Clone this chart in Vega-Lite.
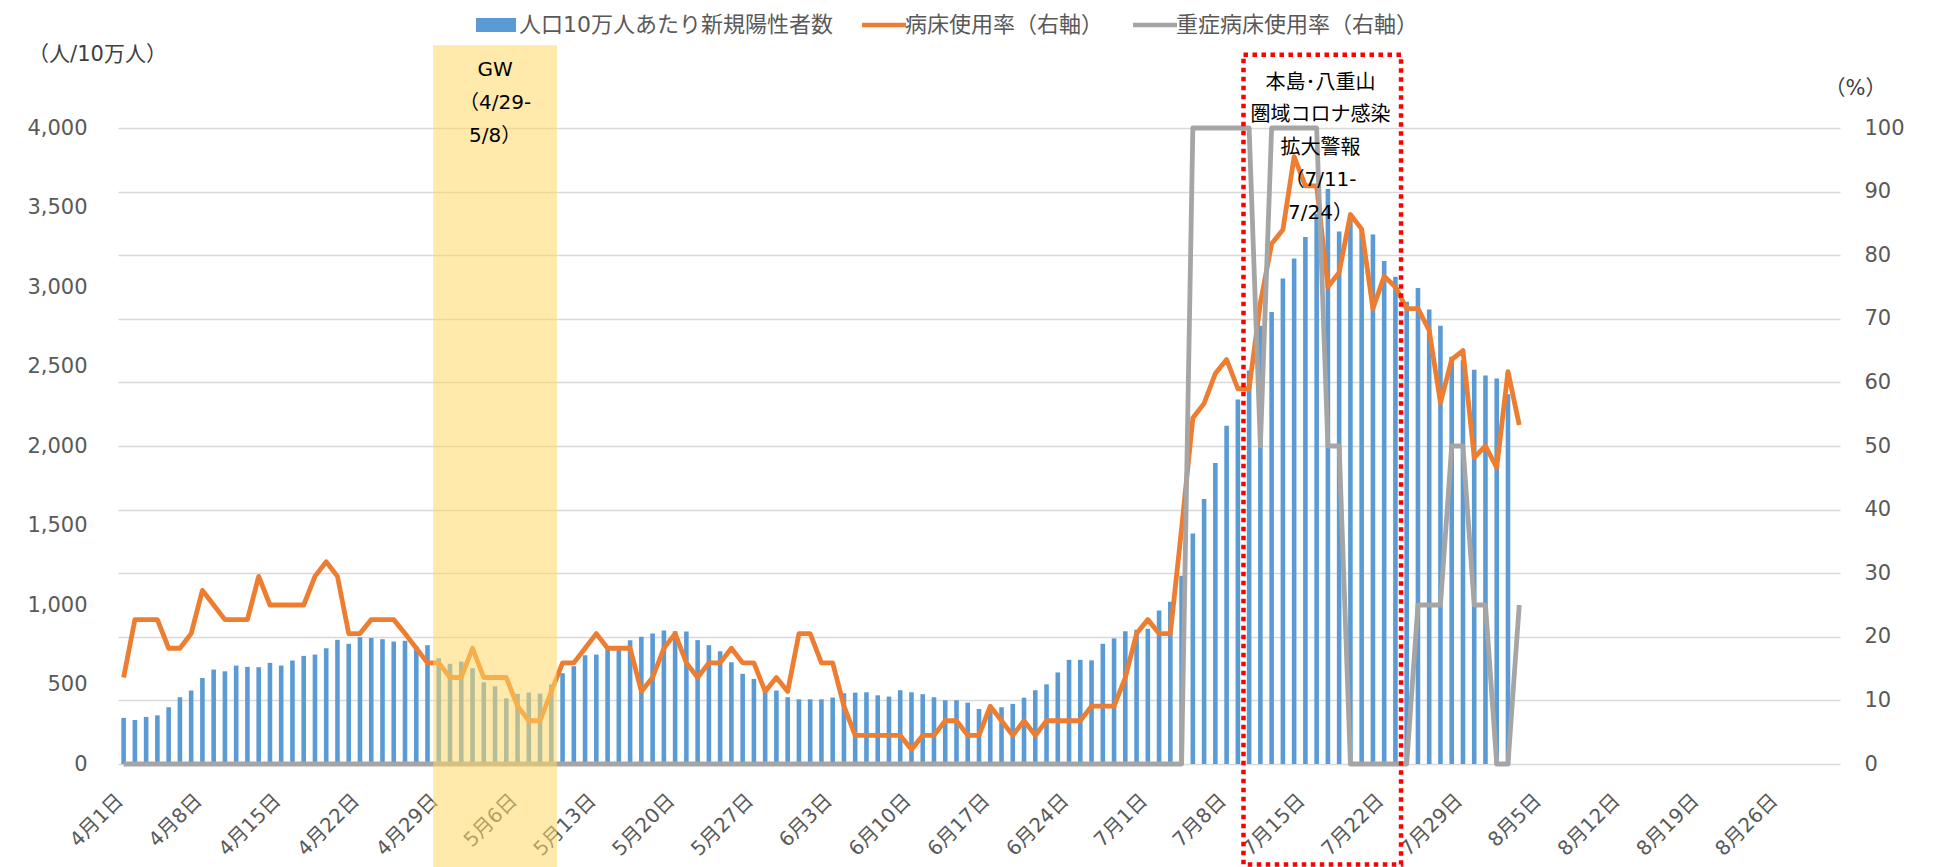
{
  "$schema": "https://vega.github.io/schema/vega-lite/v6.json",
  "width": 1722,
  "height": 636,
  "autosize": {"type": "none"},
  "padding": {"left": 118, "top": 128, "right": 93, "bottom": 103},
  "background": "white",
  "config": {
    "view": {"stroke": null},
    "font": "DejaVu Sans, Noto Sans CJK JP",
    "axis": {"labelFont": "DejaVu Sans, Noto Sans CJK JP", "titleFont": "DejaVu Sans, Noto Sans CJK JP"},
    "legend": {"labelFont": "DejaVu Sans, Noto Sans CJK JP"}
  },
  "data": {"values": [
    {"date": "2022-04-01", "cases": 290, "bed": 13.6, "severe": 0},
    {"date": "2022-04-02", "cases": 277, "bed": 22.7, "severe": 0},
    {"date": "2022-04-03", "cases": 296, "bed": 22.7, "severe": 0},
    {"date": "2022-04-04", "cases": 306, "bed": 22.7, "severe": 0},
    {"date": "2022-04-05", "cases": 357, "bed": 18.2, "severe": 0},
    {"date": "2022-04-06", "cases": 420, "bed": 18.2, "severe": 0},
    {"date": "2022-04-07", "cases": 462, "bed": 20.5, "severe": 0},
    {"date": "2022-04-08", "cases": 541, "bed": 27.3, "severe": 0},
    {"date": "2022-04-09", "cases": 594, "bed": 25.0, "severe": 0},
    {"date": "2022-04-10", "cases": 583, "bed": 22.7, "severe": 0},
    {"date": "2022-04-11", "cases": 619, "bed": 22.7, "severe": 0},
    {"date": "2022-04-12", "cases": 611, "bed": 22.7, "severe": 0},
    {"date": "2022-04-13", "cases": 609, "bed": 29.5, "severe": 0},
    {"date": "2022-04-14", "cases": 636, "bed": 25.0, "severe": 0},
    {"date": "2022-04-15", "cases": 619, "bed": 25.0, "severe": 0},
    {"date": "2022-04-16", "cases": 651, "bed": 25.0, "severe": 0},
    {"date": "2022-04-17", "cases": 680, "bed": 25.0, "severe": 0},
    {"date": "2022-04-18", "cases": 688, "bed": 29.5, "severe": 0},
    {"date": "2022-04-19", "cases": 728, "bed": 31.8, "severe": 0},
    {"date": "2022-04-20", "cases": 781, "bed": 29.5, "severe": 0},
    {"date": "2022-04-21", "cases": 756, "bed": 20.5, "severe": 0},
    {"date": "2022-04-22", "cases": 798, "bed": 20.5, "severe": 0},
    {"date": "2022-04-23", "cases": 793, "bed": 22.7, "severe": 0},
    {"date": "2022-04-24", "cases": 785, "bed": 22.7, "severe": 0},
    {"date": "2022-04-25", "cases": 770, "bed": 22.7, "severe": 0},
    {"date": "2022-04-26", "cases": 775, "bed": 20.5, "severe": 0},
    {"date": "2022-04-27", "cases": 740, "bed": 18.2, "severe": 0},
    {"date": "2022-04-28", "cases": 747, "bed": 15.9, "severe": 0},
    {"date": "2022-04-29", "cases": 665, "bed": 15.9, "severe": 0},
    {"date": "2022-04-30", "cases": 630, "bed": 13.6, "severe": 0},
    {"date": "2022-05-01", "cases": 644, "bed": 13.6, "severe": 0},
    {"date": "2022-05-02", "cases": 602, "bed": 18.2, "severe": 0},
    {"date": "2022-05-03", "cases": 514, "bed": 13.6, "severe": 0},
    {"date": "2022-05-04", "cases": 489, "bed": 13.6, "severe": 0},
    {"date": "2022-05-05", "cases": 413, "bed": 13.6, "severe": 0},
    {"date": "2022-05-06", "cases": 441, "bed": 9.1, "severe": 0},
    {"date": "2022-05-07", "cases": 449, "bed": 6.8, "severe": 0},
    {"date": "2022-05-08", "cases": 443, "bed": 6.8, "severe": 0},
    {"date": "2022-05-09", "cases": 500, "bed": 11.4, "severe": 0},
    {"date": "2022-05-10", "cases": 571, "bed": 15.9, "severe": 0},
    {"date": "2022-05-11", "cases": 615, "bed": 15.9, "severe": 0},
    {"date": "2022-05-12", "cases": 684, "bed": 18.2, "severe": 0},
    {"date": "2022-05-13", "cases": 688, "bed": 20.5, "severe": 0},
    {"date": "2022-05-14", "cases": 720, "bed": 18.2, "severe": 0},
    {"date": "2022-05-15", "cases": 739, "bed": 18.2, "severe": 0},
    {"date": "2022-05-16", "cases": 779, "bed": 18.2, "severe": 0},
    {"date": "2022-05-17", "cases": 800, "bed": 11.4, "severe": 0},
    {"date": "2022-05-18", "cases": 821, "bed": 13.6, "severe": 0},
    {"date": "2022-05-19", "cases": 840, "bed": 18.2, "severe": 0},
    {"date": "2022-05-20", "cases": 835, "bed": 20.5, "severe": 0},
    {"date": "2022-05-21", "cases": 833, "bed": 15.9, "severe": 0},
    {"date": "2022-05-22", "cases": 779, "bed": 13.6, "severe": 0},
    {"date": "2022-05-23", "cases": 747, "bed": 15.9, "severe": 0},
    {"date": "2022-05-24", "cases": 709, "bed": 15.9, "severe": 0},
    {"date": "2022-05-25", "cases": 640, "bed": 18.2, "severe": 0},
    {"date": "2022-05-26", "cases": 567, "bed": 15.9, "severe": 0},
    {"date": "2022-05-27", "cases": 535, "bed": 15.9, "severe": 0},
    {"date": "2022-05-28", "cases": 458, "bed": 11.4, "severe": 0},
    {"date": "2022-05-29", "cases": 462, "bed": 13.6, "severe": 0},
    {"date": "2022-05-30", "cases": 420, "bed": 11.4, "severe": 0},
    {"date": "2022-05-31", "cases": 407, "bed": 20.5, "severe": 0},
    {"date": "2022-06-01", "cases": 407, "bed": 20.5, "severe": 0},
    {"date": "2022-06-02", "cases": 407, "bed": 15.9, "severe": 0},
    {"date": "2022-06-03", "cases": 418, "bed": 15.9, "severe": 0},
    {"date": "2022-06-04", "cases": 445, "bed": 9.1, "severe": 0},
    {"date": "2022-06-05", "cases": 449, "bed": 4.5, "severe": 0},
    {"date": "2022-06-06", "cases": 451, "bed": 4.5, "severe": 0},
    {"date": "2022-06-07", "cases": 432, "bed": 4.5, "severe": 0},
    {"date": "2022-06-08", "cases": 424, "bed": 4.5, "severe": 0},
    {"date": "2022-06-09", "cases": 464, "bed": 4.5, "severe": 0},
    {"date": "2022-06-10", "cases": 451, "bed": 2.3, "severe": 0},
    {"date": "2022-06-11", "cases": 439, "bed": 4.5, "severe": 0},
    {"date": "2022-06-12", "cases": 420, "bed": 4.5, "severe": 0},
    {"date": "2022-06-13", "cases": 401, "bed": 6.8, "severe": 0},
    {"date": "2022-06-14", "cases": 401, "bed": 6.8, "severe": 0},
    {"date": "2022-06-15", "cases": 386, "bed": 4.5, "severe": 0},
    {"date": "2022-06-16", "cases": 346, "bed": 4.5, "severe": 0},
    {"date": "2022-06-17", "cases": 357, "bed": 9.1, "severe": 0},
    {"date": "2022-06-18", "cases": 357, "bed": 6.8, "severe": 0},
    {"date": "2022-06-19", "cases": 378, "bed": 4.5, "severe": 0},
    {"date": "2022-06-20", "cases": 417, "bed": 6.8, "severe": 0},
    {"date": "2022-06-21", "cases": 464, "bed": 4.5, "severe": 0},
    {"date": "2022-06-22", "cases": 501, "bed": 6.8, "severe": 0},
    {"date": "2022-06-23", "cases": 576, "bed": 6.8, "severe": 0},
    {"date": "2022-06-24", "cases": 655, "bed": 6.8, "severe": 0},
    {"date": "2022-06-25", "cases": 655, "bed": 6.8, "severe": 0},
    {"date": "2022-06-26", "cases": 652, "bed": 9.1, "severe": 0},
    {"date": "2022-06-27", "cases": 756, "bed": 9.1, "severe": 0},
    {"date": "2022-06-28", "cases": 790, "bed": 9.1, "severe": 0},
    {"date": "2022-06-29", "cases": 835, "bed": 13.6, "severe": 0},
    {"date": "2022-06-30", "cases": 845, "bed": 20.5, "severe": 0},
    {"date": "2022-07-01", "cases": 850, "bed": 22.7, "severe": 0},
    {"date": "2022-07-02", "cases": 965, "bed": 20.5, "severe": 0},
    {"date": "2022-07-03", "cases": 1020, "bed": 20.5, "severe": 0},
    {"date": "2022-07-04", "cases": 1184, "bed": 37.0, "severe": 0},
    {"date": "2022-07-05", "cases": 1450, "bed": 54.4, "severe": 100},
    {"date": "2022-07-06", "cases": 1667, "bed": 56.7, "severe": 100},
    {"date": "2022-07-07", "cases": 1893, "bed": 61.4, "severe": 100},
    {"date": "2022-07-08", "cases": 2128, "bed": 63.6, "severe": 100},
    {"date": "2022-07-09", "cases": 2292, "bed": 59.0, "severe": 100},
    {"date": "2022-07-10", "cases": 2475, "bed": 59.0, "severe": 100},
    {"date": "2022-07-11", "cases": 2757, "bed": 72.5, "severe": 50},
    {"date": "2022-07-12", "cases": 2843, "bed": 81.8, "severe": 100},
    {"date": "2022-07-13", "cases": 3054, "bed": 84.0, "severe": 100},
    {"date": "2022-07-14", "cases": 3179, "bed": 95.5, "severe": 100},
    {"date": "2022-07-15", "cases": 3315, "bed": 90.9, "severe": 100},
    {"date": "2022-07-16", "cases": 3460, "bed": 90.9, "severe": 100},
    {"date": "2022-07-17", "cases": 3617, "bed": 75.0, "severe": 50},
    {"date": "2022-07-18", "cases": 3349, "bed": 77.3, "severe": 50},
    {"date": "2022-07-19", "cases": 3440, "bed": 86.4, "severe": 0},
    {"date": "2022-07-20", "cases": 3369, "bed": 84.1, "severe": 0},
    {"date": "2022-07-21", "cases": 3330, "bed": 71.6, "severe": 0},
    {"date": "2022-07-22", "cases": 3164, "bed": 76.7, "severe": 0},
    {"date": "2022-07-23", "cases": 3064, "bed": 75.0, "severe": 0},
    {"date": "2022-07-24", "cases": 2908, "bed": 71.6, "severe": 0},
    {"date": "2022-07-25", "cases": 2994, "bed": 71.6, "severe": 25},
    {"date": "2022-07-26", "cases": 2858, "bed": 68.2, "severe": 25},
    {"date": "2022-07-27", "cases": 2757, "bed": 56.8, "severe": 25},
    {"date": "2022-07-28", "cases": 2561, "bed": 63.6, "severe": 50},
    {"date": "2022-07-29", "cases": 2540, "bed": 65.0, "severe": 50},
    {"date": "2022-07-30", "cases": 2480, "bed": 48.2, "severe": 25},
    {"date": "2022-07-31", "cases": 2444, "bed": 50.0, "severe": 25},
    {"date": "2022-08-01", "cases": 2425, "bed": 46.6, "severe": 0},
    {"date": "2022-08-02", "cases": 2326, "bed": 61.7, "severe": 0},
    {"date": "2022-08-03", "cases": null, "bed": 53.3, "severe": 25}
  ]},
  "layer": [
    {
      "mark": {"type": "bar", "width": 4.6},
      "encoding": {
        "x": {
          "field": "date", "type": "temporal", "timeUnit": "utcyearmonthdate", "bandPosition": 0.5,
          "scale": {"type": "utc", "nice": false, "domain": [{"year": 2022, "month": 4, "date": 1, "utc": true}, {"year": 2022, "month": 9, "date": 1, "utc": true}]},
          "axis": {
            "title": null, "format": "%-m月%-d日", "labelAngle": -45, "labelAlign": "right", "labelBaseline": "middle",
            "labelFontSize": 20, "labelColor": "#595959", "labelPadding": 33, "labelOffset": -4, "domain": false, "ticks": false, "grid": false,
            "labelOverlap": false, "labelFlush": false, "labelBound": false,
            "values": [
              {"year": 2022, "month": 4, "date": 1, "hours": 12, "utc": true},
              {"year": 2022, "month": 4, "date": 8, "hours": 12, "utc": true},
              {"year": 2022, "month": 4, "date": 15, "hours": 12, "utc": true},
              {"year": 2022, "month": 4, "date": 22, "hours": 12, "utc": true},
              {"year": 2022, "month": 4, "date": 29, "hours": 12, "utc": true},
              {"year": 2022, "month": 5, "date": 6, "hours": 12, "utc": true},
              {"year": 2022, "month": 5, "date": 13, "hours": 12, "utc": true},
              {"year": 2022, "month": 5, "date": 20, "hours": 12, "utc": true},
              {"year": 2022, "month": 5, "date": 27, "hours": 12, "utc": true},
              {"year": 2022, "month": 6, "date": 3, "hours": 12, "utc": true},
              {"year": 2022, "month": 6, "date": 10, "hours": 12, "utc": true},
              {"year": 2022, "month": 6, "date": 17, "hours": 12, "utc": true},
              {"year": 2022, "month": 6, "date": 24, "hours": 12, "utc": true},
              {"year": 2022, "month": 7, "date": 1, "hours": 12, "utc": true},
              {"year": 2022, "month": 7, "date": 8, "hours": 12, "utc": true},
              {"year": 2022, "month": 7, "date": 15, "hours": 12, "utc": true},
              {"year": 2022, "month": 7, "date": 22, "hours": 12, "utc": true},
              {"year": 2022, "month": 7, "date": 29, "hours": 12, "utc": true},
              {"year": 2022, "month": 8, "date": 5, "hours": 12, "utc": true},
              {"year": 2022, "month": 8, "date": 12, "hours": 12, "utc": true},
              {"year": 2022, "month": 8, "date": 19, "hours": 12, "utc": true},
              {"year": 2022, "month": 8, "date": 26, "hours": 12, "utc": true}
            ]
          }
        },
        "y": {
          "field": "cases", "type": "quantitative",
          "scale": {"domain": [0, 4000], "nice": false, "zero": true},
          "axis": {
            "orient": "left", "title": "（人/10万人）", "titleAngle": 0, "titleX": -21, "titleY": -74,
            "titleAlign": "center", "titleBaseline": "middle", "titleFontSize": 21, "titleFontWeight": "normal", "titleColor": "#404040",
            "values": [0, 500, 1000, 1500, 2000, 2500, 3000, 3500, 4000], "format": ",d",
            "labelFontSize": 21, "labelColor": "#595959", "labelPadding": 31, "domain": false, "ticks": false, "grid": false
          }
        },
        "color": {
          "datum": "人口10万人あたり新規陽性者数", "type": "nominal",
          "scale": {"domain": ["人口10万人あたり新規陽性者数", "病床使用率（右軸）", "重症病床使用率（右軸）"], "range": ["#5B9BD5", "#ED7D31", "#A5A5A5"]},
          "legend": {
            "orient": "none", "legendX": 369, "legendY": -114, "direction": "horizontal", "columns": 3,
            "title": null, "labelFontSize": 22, "labelColor": "#595959", "labelLimit": 0,
            "symbolSize": 1936, "symbolStrokeWidth": 4.5, "labelOffset": 10, "columnPadding": 20, "padding": 0,
            "encode": {"symbols": {"update": {
              "shape": {"signal": "datum.value === '人口10万人あたり新規陽性者数' ? 'M-1,-0.32H0.82V0.32H-1Z' : 'M-1,0H1'"},
              "fill": {"signal": "datum.value === '人口10万人あたり新規陽性者数' ? '#5B9BD5' : 'transparent'"},
              "stroke": {"signal": "datum.value === '人口10万人あたり新規陽性者数' ? 'transparent' : scale('color', datum.value)"},
              "strokeWidth": {"signal": "datum.value === '人口10万人あたり新規陽性者数' ? 0 : 4.5"},
              "opacity": {"value": 1}
            }}}
          }
        }
      }
    },
    {
      "layer": [
        {
          "mark": {"type": "line", "strokeWidth": 4.8, "strokeJoin": "round"},
          "encoding": {
            "x": {"field": "date", "type": "temporal", "timeUnit": "utcyearmonthdate", "bandPosition": 0.5,
                  "scale": {"type": "utc", "nice": false, "domain": [{"year": 2022, "month": 4, "date": 1, "utc": true}, {"year": 2022, "month": 9, "date": 1, "utc": true}]}},
            "y": {"field": "bed", "type": "quantitative", "scale": {"domain": [0, 100], "nice": false},
                  "axis": {"orient": "right", "title": "（%）", "titleAngle": 0, "titleX": 15, "titleY": -40, "titleAlign": "center", "titleBaseline": "middle",
                           "titleFontSize": 21, "titleFontWeight": "normal", "titleColor": "#404040",
                           "values": [0, 10, 20, 30, 40, 50, 60, 70, 80, 90, 100],
                           "labelFontSize": 21, "labelColor": "#595959", "labelPadding": 24, "domain": false, "ticks": false,
                           "grid": true, "gridColor": "#D9D9D9", "gridWidth": 1.5}},
            "color": {"datum": "病床使用率（右軸）", "type": "nominal"}
          }
        },
        {
          "mark": {"type": "line", "strokeWidth": 4.8, "strokeJoin": "round"},
          "encoding": {
            "x": {"field": "date", "type": "temporal", "timeUnit": "utcyearmonthdate", "bandPosition": 0.5,
                  "scale": {"type": "utc", "nice": false, "domain": [{"year": 2022, "month": 4, "date": 1, "utc": true}, {"year": 2022, "month": 9, "date": 1, "utc": true}]}},
            "y": {"field": "severe", "type": "quantitative", "scale": {"domain": [0, 100], "nice": false}},
            "color": {"datum": "重症病床使用率（右軸）", "type": "nominal"}
          }
        },
        {
          "data": {"values": [{"start": "2022-04-29", "end": "2022-05-10", "label": "GW\n（4/29-\n5/8）"}]},
          "mark": {"type": "rect", "color": "#FFD966", "opacity": 0.55},
          "encoding": {
            "x": {"field": "start", "type": "temporal",
                  "scale": {"type": "utc", "nice": false, "domain": [{"year": 2022, "month": 4, "date": 1, "utc": true}, {"year": 2022, "month": 9, "date": 1, "utc": true}]}},
            "x2": {"field": "end"},
            "y": {"datum": 113, "type": "quantitative", "scale": {"domain": [0, 100], "nice": false}},
            "y2": {"datum": -17}
          }
        },
        {
          "data": {"values": [{"start": "2022-07-10", "end": "2022-07-24", "label": "本島･八重山\n圏域コロナ感染\n拡大警報\n（7/11-\n7/24）"}]},
          "mark": {"type": "rect", "fill": null, "fillOpacity": 0, "stroke": "#FF0000", "strokeWidth": 4.5, "strokeDash": [4.5, 4.5]},
          "encoding": {
            "x": {"field": "start", "type": "temporal",
                  "scale": {"type": "utc", "nice": false, "domain": [{"year": 2022, "month": 4, "date": 1, "utc": true}, {"year": 2022, "month": 9, "date": 1, "utc": true}]}},
            "x2": {"field": "end"},
            "y": {"datum": 111.5, "type": "quantitative", "scale": {"domain": [0, 100], "nice": false}},
            "y2": {"datum": -15.8}
          }
        },
        {
          "data": {"values": [{"start": "2022-04-29", "end": "2022-05-10", "label": "GW\n（4/29-\n5/8）"}]},
          "mark": {"type": "text", "dx": 62, "align": "center", "baseline": "middle", "lineBreak": "\n", "lineHeight": 33, "fontSize": 20, "font": "DejaVu Sans, Noto Sans CJK JP", "color": "#000000"},
          "encoding": {
            "x": {"field": "start", "type": "temporal",
                  "scale": {"type": "utc", "nice": false, "domain": [{"year": 2022, "month": 4, "date": 1, "utc": true}, {"year": 2022, "month": 9, "date": 1, "utc": true}]}},
            "y": {"datum": 109.1, "type": "quantitative", "scale": {"domain": [0, 100], "nice": false}},
            "text": {"field": "label"}
          }
        },
        {
          "data": {"values": [{"start": "2022-07-10", "end": "2022-07-24", "label": "本島･八重山\n圏域コロナ感染\n拡大警報\n（7/11-\n7/24）"}]},
          "mark": {"type": "text", "dx": 77, "align": "center", "baseline": "middle", "lineBreak": "\n", "lineHeight": 32.5, "fontSize": 20, "font": "DejaVu Sans, Noto Sans CJK JP", "color": "#000000"},
          "encoding": {
            "x": {"field": "start", "type": "temporal",
                  "scale": {"type": "utc", "nice": false, "domain": [{"year": 2022, "month": 4, "date": 1, "utc": true}, {"year": 2022, "month": 9, "date": 1, "utc": true}]}},
            "y": {"datum": 107.1, "type": "quantitative", "scale": {"domain": [0, 100], "nice": false}},
            "text": {"field": "label"}
          }
        }
      ]
    }
  ],
  "resolve": {"scale": {"y": "independent"}}
}
